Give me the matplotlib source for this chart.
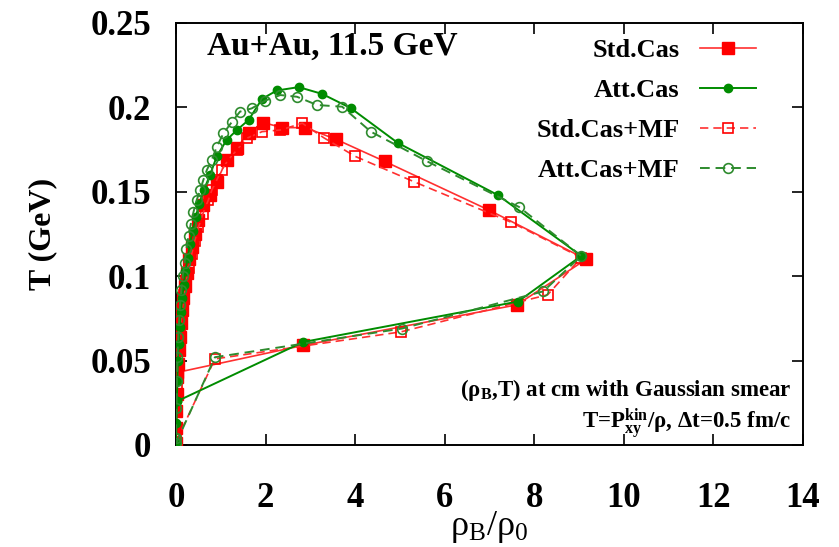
import matplotlib
matplotlib.use("Agg")
import matplotlib.pyplot as plt

# ---- data (rho_B/rho_0, T in GeV), time ordered ----
std_cas_x = [0.03, 2.84, 7.61, 9.16, 7.00, 4.66, 3.58, 2.89, 2.37, 1.95, 1.62, 1.36, 1.13, 0.91, 0.76, 0.60,
             0.50, 0.42, 0.35, 0.29, 0.24, 0.20, 0.16, 0.13, 0.10, 0.08, 0.06, 0.04, 0.03, 0.02, 0.01, 0.005, 0.0]
std_cas_y = [0.043, 0.059, 0.083, 0.110, 0.139, 0.168, 0.181, 0.188, 0.188, 0.191, 0.185, 0.176, 0.169, 0.156, 0.148, 0.142,
             0.133, 0.125, 0.117, 0.110, 0.102, 0.094, 0.087, 0.080, 0.072, 0.064, 0.056, 0.048, 0.040, 0.030, 0.020, 0.010, 0.001]

att_cas_x = [0.03, 2.84, 7.64, 9.05, 7.19, 4.95, 3.90, 3.26, 2.74, 2.25, 1.92, 1.62, 1.36, 1.13, 0.91, 0.76, 0.62,
             0.52, 0.44, 0.37, 0.31, 0.26, 0.21, 0.17, 0.14, 0.11, 0.08, 0.06, 0.04, 0.03, 0.02, 0.01, 0.0]
att_cas_y = [0.026, 0.061, 0.085, 0.112, 0.148, 0.179, 0.1996, 0.208, 0.212, 0.210, 0.205, 0.1925, 0.1866, 0.1807, 0.171, 0.160, 0.151,
             0.143, 0.135, 0.127, 0.119, 0.111, 0.103, 0.095, 0.087, 0.079, 0.070, 0.060, 0.050, 0.038, 0.026, 0.013, 0.001]

std_mf_x = [0.0, 0.87, 5.02, 8.30, 9.05, 7.48, 5.31, 4.00, 3.30, 2.82, 2.33, 1.92, 1.58, 1.36, 1.17, 1.02, 0.91, 0.80, 0.72,
            0.60, 0.50, 0.42, 0.35, 0.29, 0.23, 0.18, 0.14, 0.11, 0.08, 0.06, 0.04, 0.02, 0.01, 0.0]
std_mf_y = [0.002, 0.051, 0.067, 0.089, 0.111, 0.132, 0.156, 0.171, 0.182, 0.1906, 0.1866, 0.1856, 0.1817, 0.1748, 0.169, 0.163, 0.157, 0.151, 0.145,
            0.137, 0.129, 0.121, 0.113, 0.105, 0.097, 0.089, 0.081, 0.073, 0.065, 0.056, 0.046, 0.034, 0.020, 0.004]

att_mf_x = [0.0, 0.87, 5.05, 8.20, 9.05, 7.66, 5.61, 4.35, 3.71, 3.15, 2.70, 2.33, 1.99, 1.69, 1.43, 1.25, 1.06, 0.91, 0.80, 0.69,
            0.61, 0.54, 0.46, 0.39, 0.33, 0.28, 0.23, 0.19, 0.15, 0.12, 0.09, 0.07, 0.05, 0.03, 0.02, 0.01, 0.0]
att_mf_y = [0.001, 0.052, 0.069, 0.091, 0.112, 0.141, 0.168, 0.1856, 0.2004, 0.2014, 0.2063, 0.2073, 0.204, 0.1994, 0.1975, 0.1915, 0.1846, 0.1767, 0.169, 0.163,
            0.157, 0.151, 0.145, 0.138, 0.131, 0.124, 0.116, 0.108, 0.100, 0.092, 0.083, 0.074, 0.064, 0.052, 0.038, 0.022, 0.004]

labels = ["Std.Cas", "Att.Cas", "Std.Cas+MF", "Att.Cas+MF"]
x_ticks = [0, 2, 4, 6, 8, 10, 12, 14]
y_ticks = [0, 0.05, 0.1, 0.15, 0.2, 0.25]
y_tick_labels = ["0", "0.05", "0.1", "0.15", "0.2", "0.25"]

plt.rcParams['font.family'] = ['Liberation Serif', 'DejaVu Serif']
plt.rcParams['mathtext.fontset'] = 'custom'
plt.rcParams['mathtext.rm'] = 'Liberation Serif'
plt.rcParams['mathtext.it'] = 'Liberation Serif:italic'
plt.rcParams['mathtext.bf'] = 'Liberation Serif:bold'

fig = plt.figure(figsize=(8.39, 5.47), dpi=100)
ax = fig.add_axes([0.2098, 0.1865, 0.7472, 0.7715])

red = '#ff0000'
red_line = '#ff3030'
green = '#008c00'
green_d = '#2e8b2e'

ax.plot(std_cas_x, std_cas_y, '-', color=red_line, lw=1.2, marker='s', ms=8,
        mfc=red, mec=red, label=labels[0], zorder=3)
ax.plot(att_cas_x, att_cas_y, '-', color=green, lw=1.4, marker='o', ms=6,
        mfc=green, mec=green, label=labels[1], zorder=4)
ax.plot(std_mf_x, std_mf_y, '--', color=red_line, lw=1.2, marker='s', ms=7,
        mfc='none', mec=red, mew=1.2, dashes=(5, 3), label=labels[2], zorder=3)
ax.plot(att_mf_x, att_mf_y, '--', color=green_d, lw=1.4, marker='o', ms=7,
        mfc='none', mec=green_d, mew=1.2, dashes=(5, 3), label=labels[3], zorder=4)

ax.set_xlim(0, 14)
ax.set_ylim(0, 0.25)
ax.set_xticks(x_ticks)
ax.set_yticks(y_ticks)
ax.set_yticklabels(y_tick_labels)
ax.tick_params(direction='in', length=8, width=1.2, top=True, right=True,
               labelsize=25)
ax.tick_params(axis='y', pad=18)
ax.tick_params(axis='x', pad=27)
for t in ax.get_xticklabels() + ax.get_yticklabels():
    t.set_fontweight('bold')
for s in ax.spines.values():
    s.set_linewidth(1.4)

ax.set_xlabel('ρ$_\\mathrm{B}$/ρ$_\\mathrm{0}$', fontsize=26, labelpad=-5)
ax.set_ylabel('T (GeV)', fontsize=23, fontweight='bold', labelpad=24)

ax.text(0.05, 0.982, 'Au+Au, 11.5 GeV', transform=ax.transAxes, fontsize=24,
        fontweight='bold', ha='left', va='top')

leg = ax.legend(loc='upper right', bbox_to_anchor=(0.925, 0.962), frameon=False,
                markerfirst=False, handlelength=2.1, borderpad=0, borderaxespad=0,
                labelspacing=0.62, handletextpad=0.8,
                prop={'weight': 'bold', 'size': 19})

ax.text(0.982, 0.13, '(ρ$_\\mathbf{B}$,T) at cm with Gaussian smear',
        transform=ax.transAxes, fontsize=16.5, fontweight='bold', ha='right', va='center')
ax.text(0.982, 0.05, 'T=P$_{\\mathbf{xy}}^{\\mathbf{kin}}$/ρ, Δt=0.5 fm/c',
        transform=ax.transAxes, fontsize=16.5, fontweight='bold', ha='right', va='center')

fig.savefig('out.png', dpi=100)
